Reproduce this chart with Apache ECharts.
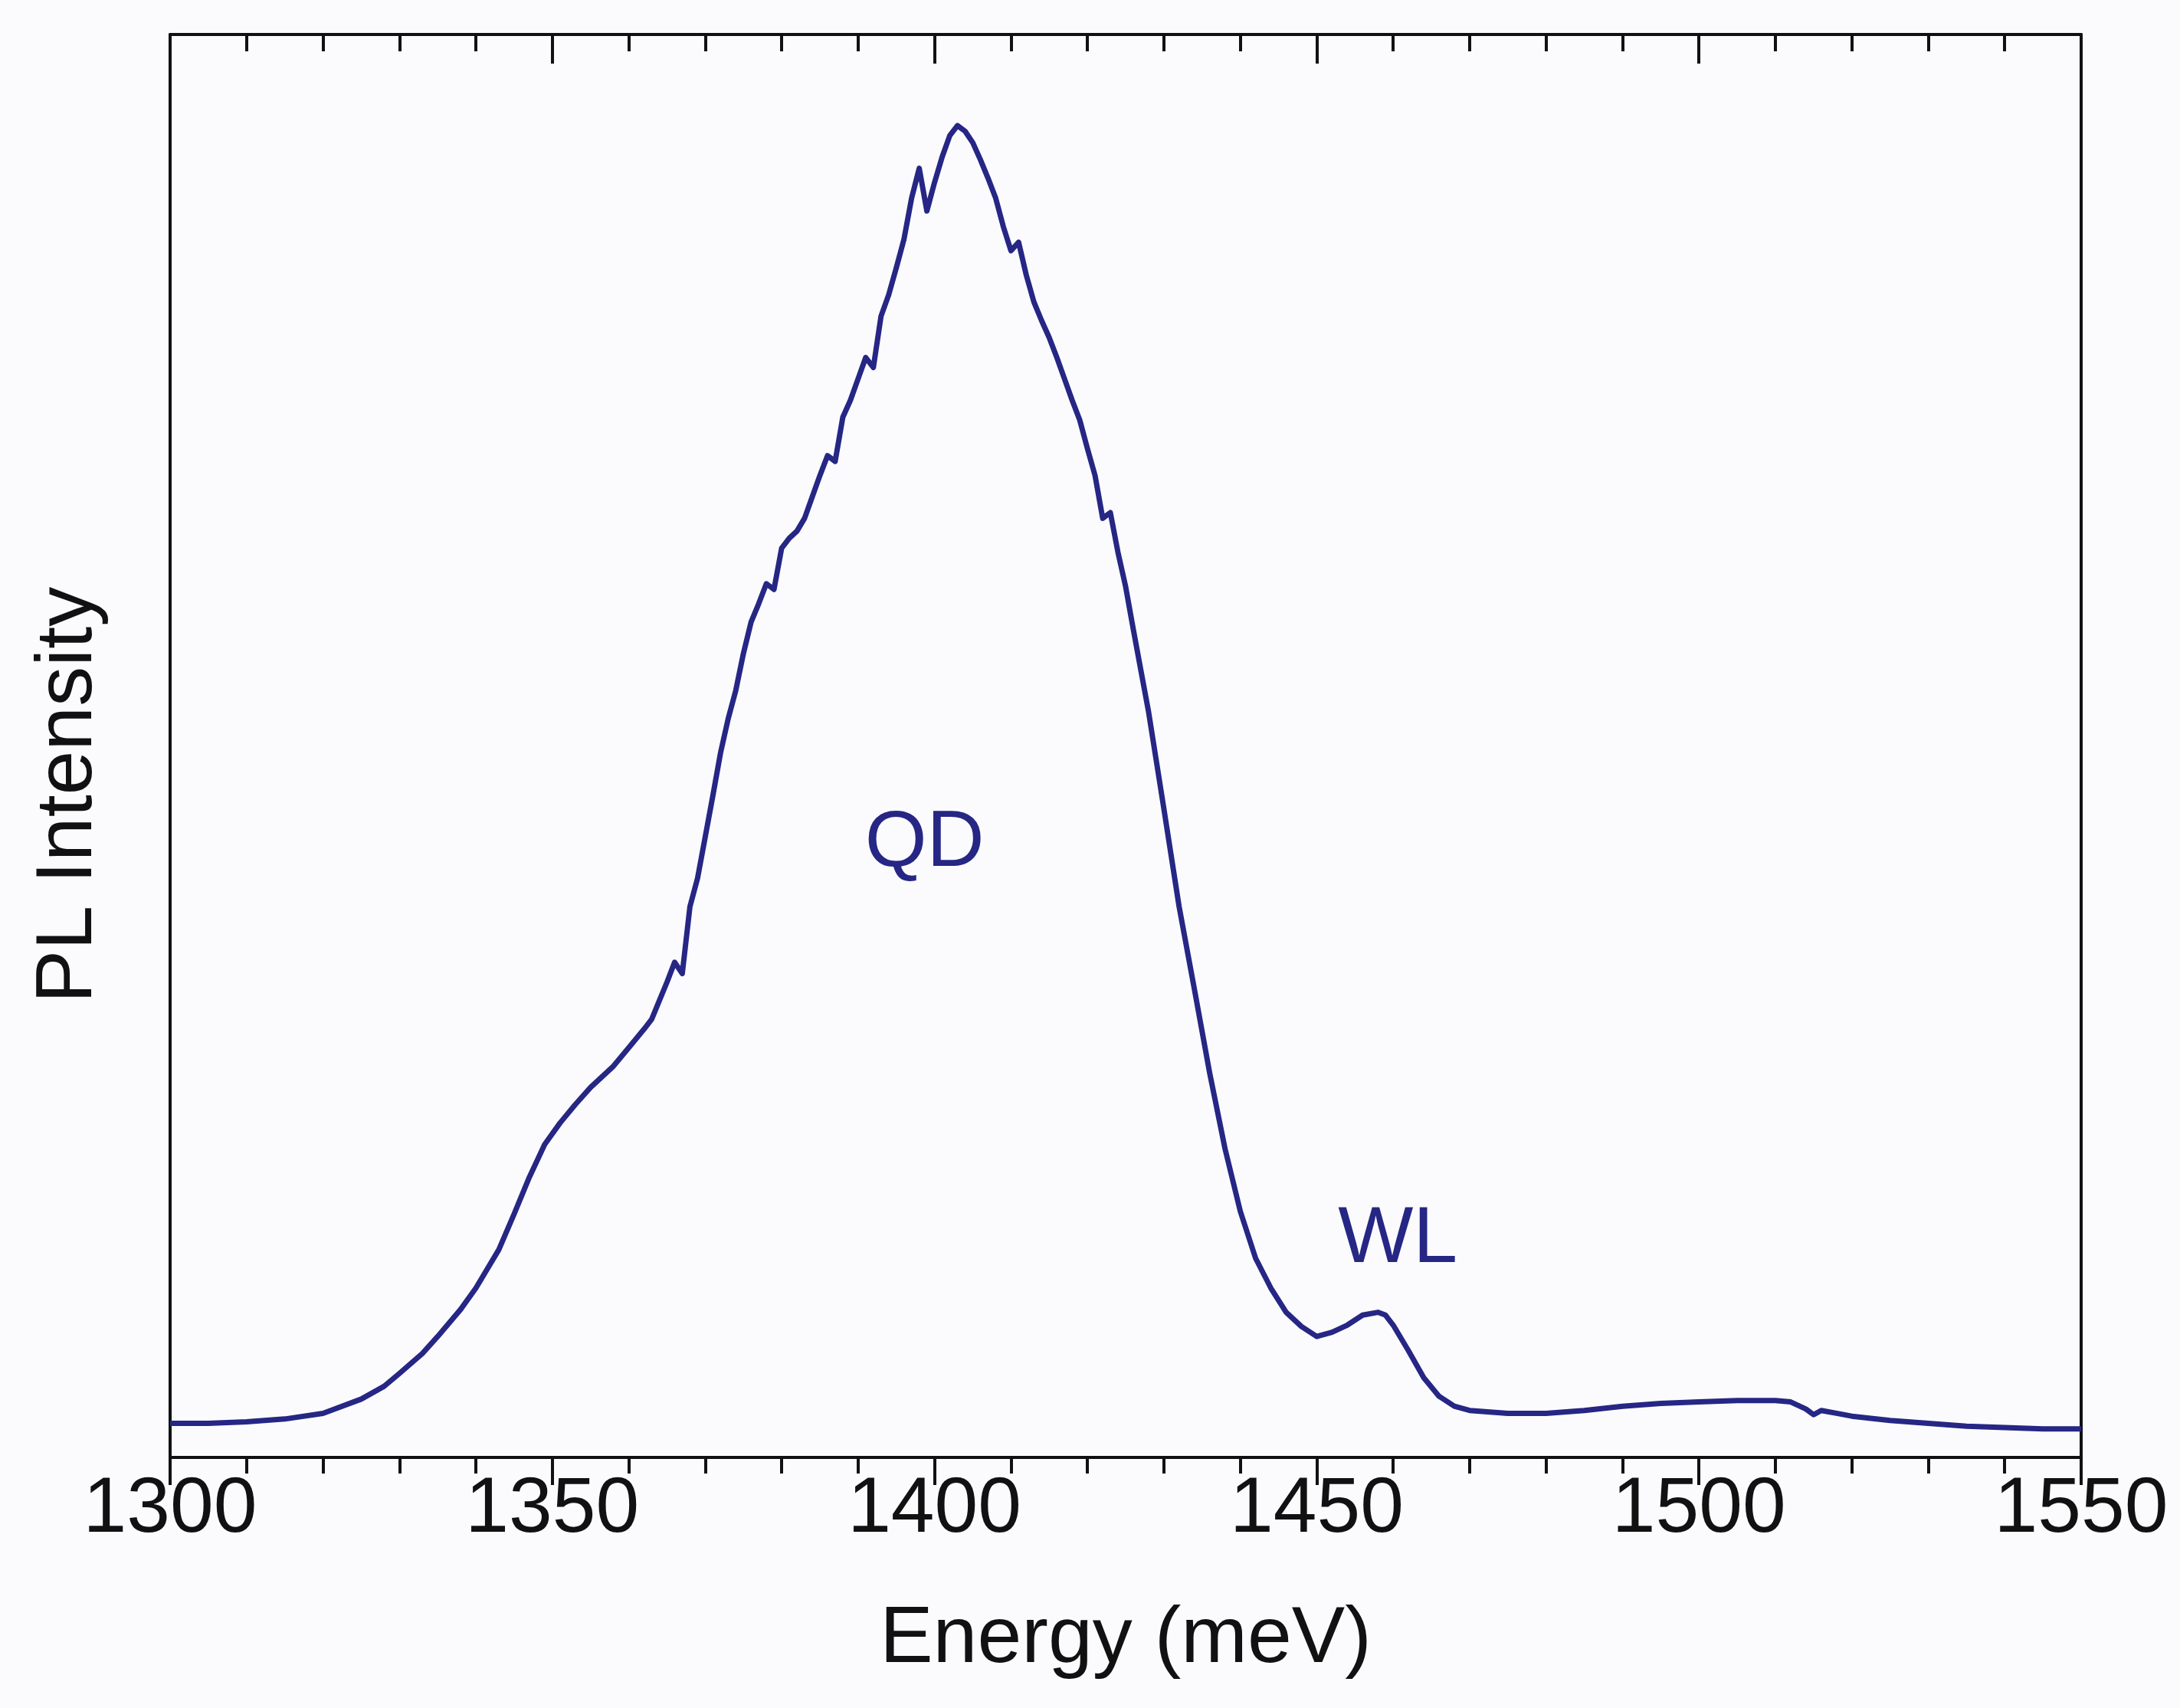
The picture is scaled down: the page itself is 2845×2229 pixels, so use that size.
<!DOCTYPE html>
<html>
<head>
<meta charset="utf-8">
<title>PL spectrum</title>
<script src="https://cdn.jsdelivr.net/npm/echarts@6/dist/echarts.min.js"></script>
<style>
  html, body { margin: 0; padding: 0; background: #fbfbfe; }
  #chart { width: 2845px; height: 2229px; }
</style>
</head>
<body>
<div id="chart"></div>
<script>
// energy in meV, intensity in arbitrary units (frame top = 100)
const energy = [
  1300, 1305, 1310, 1315, 1320, 1325, 1328, 1330, 1333, 1335, 1338, 1340, 1343, 1345, 1347, 1349,
  1351, 1353, 1355, 1358, 1360, 1362, 1363, 1364, 1365, 1366, 1367, 1368, 1369, 1370, 1371, 1372,
  1373, 1374, 1375, 1376, 1377, 1378, 1379, 1380, 1381, 1382, 1383, 1384, 1385, 1386, 1387, 1388,
  1389, 1390, 1391, 1392, 1393, 1394, 1395, 1396, 1397, 1398, 1399, 1400, 1401, 1402, 1403, 1404,
  1405, 1406, 1407, 1408, 1409, 1410, 1411, 1412, 1413, 1414, 1415, 1416, 1417, 1418, 1419, 1420,
  1421, 1422, 1423, 1424, 1425, 1426, 1427, 1428, 1429, 1430, 1432, 1434, 1436, 1438, 1440, 1442,
  1444, 1446, 1448, 1450, 1452, 1454, 1456, 1458, 1459, 1460, 1462, 1464, 1466, 1468, 1470, 1475,
  1480, 1485, 1490, 1495, 1500, 1505, 1510, 1512, 1514, 1515, 1516, 1518, 1520, 1525, 1530, 1535,
  1540, 1545, 1550
]
const intensity = [
  2.4, 2.4, 2.5, 2.7, 3.1, 4.1, 5.0, 5.9, 7.3, 8.5, 10.4, 11.9, 14.6, 17.1, 19.7, 22.0,
  23.5, 24.8, 26.0, 27.5, 28.8, 30.1, 30.8, 32.1, 33.4, 34.8, 34.0, 38.7, 40.7, 43.6, 46.5, 49.5,
  51.9, 53.9, 56.5, 58.7, 60.0, 61.4, 61.0, 63.9, 64.6, 65.1, 66.0, 67.5, 69.0, 70.4, 70.0, 73.1,
  74.3, 75.8, 77.3, 76.6, 80.2, 81.7, 83.6, 85.6, 88.5, 90.6, 87.6, 89.6, 91.4, 92.9, 93.6, 93.2,
  92.4, 91.2, 89.9, 88.5, 86.5, 84.8, 85.4, 83.1, 81.2, 79.9, 78.7, 77.3, 75.8, 74.3, 72.9, 70.9,
  69.0, 66.0, 66.4, 63.6, 61.2, 58.2, 55.3, 52.4, 49.0, 45.6, 38.7, 32.9, 27.0, 21.7, 17.3, 14.0,
  11.9, 10.2, 9.2, 8.5, 8.8, 9.3, 10.0, 10.2, 10.0, 9.3, 7.5, 5.6, 4.3, 3.6, 3.3, 3.1,
  3.1, 3.3, 3.6, 3.8, 3.9, 4.0, 4.0, 3.9, 3.4, 3.0, 3.3, 3.1, 2.9, 2.6, 2.4, 2.2,
  2.1, 2.0, 2.0
]
// peak annotations [energy, intensity, text]
const peakLabels = [
  [1398.7, 43.1, 'QD'],
  [1460.6, 15.3, 'WL']
]

const lineColor = '#262685'
const axisColor = '#111111'
const fontFamily = '"Liberation Sans", Arial, sans-serif'

const frameAxis = {
  axisLine: {
    show: true,
    onZero: false,
    lineStyle: { color: axisColor, width: 4 }
  },
  splitLine: { show: false }
}

const chart = echarts.init(document.getElementById('chart'))
chart.setOption({
  backgroundColor: '#fbfbfe',
  animation: false,
  grid: {
    left: 222,
    right: 129,
    top: 45,
    bottom: 327
  },
  xAxis: [{
    ...frameAxis,
    type: 'value',
    position: 'bottom',
    min: 1300,
    max: 1550,
    interval: 50,
    name: 'Energy (meV)',
    nameLocation: 'middle',
    nameGap: 186,
    nameTextStyle: {
      color: axisColor,
      fontSize: 104,
      fontFamily: fontFamily
    },
    axisTick: {
      inside: false,
      length: 36,
      lineStyle: { color: axisColor, width: 4 }
    },
    minorTick: {
      show: true,
      splitNumber: 5,
      length: 21,
      lineStyle: { color: axisColor, width: 4 }
    },
    axisLabel: {
      margin: 18,
      color: axisColor,
      fontSize: 102,
      fontFamily: fontFamily,
      formatter: v => String(v)
    }
  }, {
    ...frameAxis,
    type: 'value',
    position: 'top',
    min: 1300,
    max: 1550,
    interval: 50,
    axisTick: {
      show: true,
      inside: true,
      length: 38,
      lineStyle: { color: axisColor, width: 4 }
    },
    minorTick: {
      show: true,
      splitNumber: 5,
      length: 22,
      lineStyle: { color: axisColor, width: 4 }
    },
    axisLabel: { show: false }
  }],
  yAxis: [{
    ...frameAxis,
    type: 'value',
    position: 'left',
    min: 0,
    max: 100,
    name: 'PL Intensity',
    nameLocation: 'middle',
    nameGap: 80,
    nameTextStyle: {
      color: axisColor,
      fontSize: 104,
      fontFamily: fontFamily,
      padding: [0, 128, 0, 0]
    },
    axisTick: { show: false },
    axisLabel: { show: false }
  }, {
    ...frameAxis,
    type: 'value',
    position: 'right',
    min: 0,
    max: 100,
    axisTick: { show: false },
    axisLabel: { show: false }
  }],
  series: [{
    type: 'line',
    xAxisIndex: 0,
    yAxisIndex: 0,
    data: energy.map((e, i) => [e, intensity[i]]),
    showSymbol: false,
    symbol: 'none',
    smooth: false,
    lineStyle: { color: lineColor, width: 7, join: 'round' },
    z: 3
  }, {
    type: 'scatter',
    xAxisIndex: 0,
    yAxisIndex: 0,
    data: peakLabels.map(p => ({ value: [p[0], p[1]], name: p[2] })),
    symbolSize: 1,
    itemStyle: { opacity: 0 },
    silent: true,
    label: {
      show: true,
      position: 'inside',
      opacity: 1,
      formatter: p => p.name,
      color: lineColor,
      fontSize: 104,
      fontFamily: fontFamily
    }
  }]
})
</script>
</body>
</html>
